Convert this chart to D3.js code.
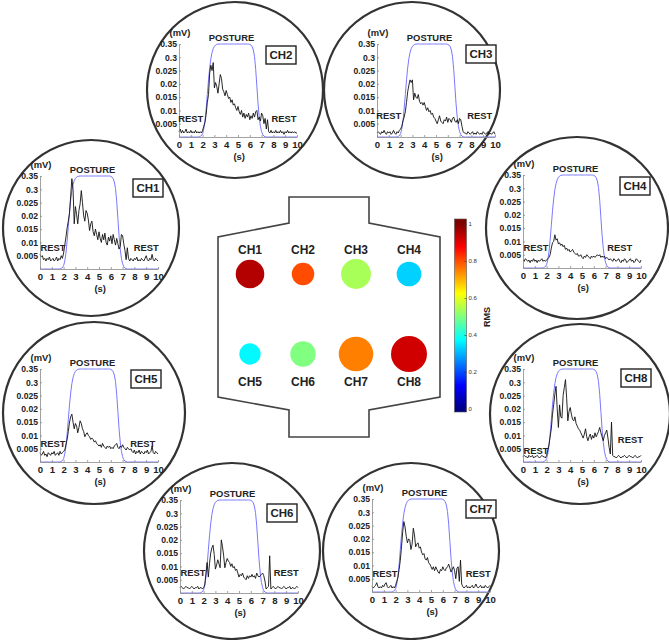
<!DOCTYPE html>
<meta charset="utf-8">
<title>EMG posture channels</title>
<style>

body { margin: 0; background: #fff; }
text { font-family: "Liberation Sans", Arial, sans-serif; font-weight: bold; fill: #222; }
.axis path, .axis line { stroke: #8a8a8a; stroke-width: 0.8; }
.axis text { font-size: 8.6px; }
.xaxis text { font-size: 9.6px; }
.emg { fill: none; stroke: #111; stroke-width: 0.9; }
.posture { fill: none; stroke: #7878ff; stroke-width: 1; }
.panel { fill: #fff; stroke: #333; stroke-width: 2.2; }
.note { font-size: 9.4px; }
.tag { font-size: 11.5px; }
.board { fill: #fff; stroke: #444; stroke-width: 1.6; }
.cbar path { stroke: none; }
.cbar line { stroke: #333; stroke-width: 0.6; }
.cbar text { font-size: 6px; font-weight: normal; fill: #333; }

</style>
<body>

<div id="chart"></div>

<script src="https://d3js.org/d3.v7.min.js"></script>
<script>

  var channels = ["CH1", "CH2", "CH3", "CH4", "CH5", "CH6", "CH7", "CH8"];

  // RMS (colour) and relative electrode size for the board view
  var rms = [0.95, 0.80, 0.54, 0.33, 0.37, 0.50, 0.75, 0.92];
  var dotSize = [0.63, 0.39, 0.69, 0.47, 0.35, 0.50, 0.92, 1.00];

  var xTicks = [0, 1, 2, 3, 4, 5, 6, 7, 8, 9, 10];
  var yTickLabels = ["0.005", "0.01", "0.015", "0.02", "0.025", "0.3", "0.35"];
  var cbarTicks = [0, 0.2, 0.4, 0.6, 0.8, 1];
  var sampleStep = 0.1; // s between samples

  // posture reference curve (same for every channel), in y-tick units
  var posture = [
    0, 0, 0, 0, 0, 0, 0, 0, 0, 0,
    0, 0, 0, 0, 0, 0, 0, 0, 0.05, 0.1,
    0.25, 0.6, 1.2, 2.1, 3.2, 4.3, 5.2, 5.9, 6.35, 6.65,
    6.82, 6.92, 6.97, 6.99, 7, 7, 7, 7, 7, 7,
    7, 7, 7, 7, 7, 7, 7, 7, 7, 7,
    7, 7, 7, 7, 7, 7, 7, 7, 7, 7,
    6.97, 6.92, 6.8, 6.55, 6.05, 5.1, 3.8, 2.5, 1.5, 0.8,
    0.4, 0.18, 0.07, 0.02, 0, 0, 0, 0, 0, 0,
    0, 0, 0, 0, 0, 0, 0, 0, 0, 0,
    0, 0, 0, 0, 0, 0, 0, 0, 0, 0,
    0
  ];

  var emg1 = [
    1.1, 0.9, 1.0, 0.7, 0.8, 0.6, 0.8, 0.7, 0.9, 0.6,
    0.7, 0.8, 0.6, 0.7, 0.9, 0.6, 0.8, 0.7, 1.0, 0.8,
    1.2, 1.8, 2.4, 3.1, 3.6, 4.2, 5.5, 6.8, 6.0, 3.4,
    4.7, 4.1, 3.4, 4.4, 4.9, 5.9, 5.0, 4.0, 3.6, 4.4,
    4.2, 3.7, 2.9, 3.4, 3.6, 2.8, 2.5, 3.0, 2.6, 2.2,
    2.8, 2.3, 2.0, 2.6, 2.2, 2.7, 2.0, 1.8, 2.4, 2.1,
    2.5, 1.9, 2.6, 2.2, 1.8, 2.3, 1.9, 1.5, 1.7, 2.6,
    2.5, 1.9, 1.4, 0.7, 1.6, 0.8, 0.6, 0.8, 0.7, 0.6,
    0.8, 0.7, 0.9, 0.6, 0.7, 0.6, 0.8, 0.7, 0.6, 0.8,
    1.0, 0.7, 0.6, 0.8, 0.7, 1.1, 0.7, 0.6, 0.8, 0.7,
    0.6
  ];
  var emg2 = [
    0.4, 0.6, 0.3, 0.5, 0.3, 0.4, 0.6, 0.3, 0.4, 0.3,
    0.5, 0.3, 0.4, 0.3, 0.5, 0.3, 0.4, 0.3, 0.4, 0.3,
    0.5, 0.8, 1.1, 1.7, 2.6, 3.2, 4.8, 5.4, 5.0, 5.6,
    3.7, 4.1, 3.8, 3.3, 4.0, 4.7, 4.4, 3.6, 3.4, 3.1,
    3.5, 3.2, 2.9, 3.0, 2.6, 2.8, 2.4, 2.5, 2.2, 2.0,
    2.3, 1.9, 1.7, 2.0, 1.5, 1.8, 1.4, 1.7, 1.5, 1.8,
    1.3, 1.6, 1.4, 1.8, 1.5, 1.9, 2.0, 1.3, 1.5, 1.2,
    1.8, 1.6, 1.0, 1.4, 0.6, 1.3, 0.4, 0.3, 0.5, 0.3,
    0.4, 0.3, 0.5, 0.3, 0.4, 0.3, 0.5, 0.3, 0.4, 0.2,
    0.4, 0.3, 0.5, 0.3, 0.4, 0.3, 0.4, 0.3, 0.4, 0.3,
    0.3
  ];
  var emg3 = [
    0.3, 0.4, 0.3, 0.2, 0.4, 0.3, 0.5, 0.3, 0.2, 0.4,
    0.3, 0.4, 0.2, 0.3, 0.5, 0.3, 0.2, 0.4, 0.3, 0.5,
    0.6, 0.8, 1.2, 1.5, 1.9, 2.6, 3.4, 3.9, 4.3, 4.1,
    4.3, 2.8, 3.3, 3.0, 2.9, 3.2, 2.7, 2.5, 2.6, 2.4,
    2.6, 2.3, 2.0, 2.2, 1.9, 2.0, 1.7, 1.8, 1.5, 1.4,
    1.2, 1.0, 1.3, 1.6, 1.2, 1.1, 1.0, 1.3, 1.2, 1.5,
    1.1, 1.4, 1.3, 1.1, 1.4, 1.5, 1.2, 1.1, 1.3, 1.0,
    1.4, 1.3, 0.8, 0.4, 0.3, 0.3, 0.2, 0.4, 0.3, 0.2,
    0.3, 0.4, 0.2, 0.3, 0.2, 0.4, 0.3, 0.2, 0.3, 0.2,
    0.4, 0.3, 0.2, 0.3, 0.4, 0.2, 0.3, 0.2, 0.3, 0.4,
    0.2
  ];
  var emg4 = [
    0.6, 0.5, 0.7, 0.6, 0.5, 0.6, 0.4, 0.6, 0.5, 0.7,
    0.5, 0.6, 0.4, 0.6, 0.5, 0.6, 0.7, 0.5, 0.6, 0.5,
    0.6, 0.7, 0.8, 1.0, 1.5, 1.9, 2.0, 2.5, 2.1, 2.2,
    1.8, 1.9, 1.7, 1.8, 1.6, 1.7, 1.4, 1.5, 1.3, 1.4,
    1.2, 1.3, 1.4, 1.2, 1.1, 1.0, 1.1, 0.9, 0.9, 1.0,
    0.8, 0.7, 0.9, 0.8, 1.0, 0.9, 0.8, 0.7, 0.9, 0.8,
    0.9, 0.8, 0.9, 1.0, 0.9, 1.0, 0.8, 0.9, 0.8, 0.9,
    0.7, 0.8, 0.7, 0.6, 0.7, 0.6, 0.5, 0.7, 0.6, 0.5,
    0.6, 0.7, 0.5, 0.4, 0.6, 0.5, 0.7, 0.6, 0.4, 0.5,
    0.6, 0.7, 0.5, 0.6, 0.4, 0.5, 0.7, 0.6, 0.5, 0.4,
    0.6
  ];
  var emg5 = [
    0.7, 0.5, 0.6, 0.8, 0.5, 0.6, 0.4, 0.7, 0.6, 0.5,
    0.7, 0.6, 0.8, 0.5, 0.6, 0.7, 0.5, 0.8, 0.6, 0.7,
    0.8, 0.9, 1.3, 1.7, 2.3, 3.0, 3.4, 3.6, 3.0, 2.5,
    2.9, 2.7, 2.2, 2.6, 3.1, 2.9, 2.5, 2.3, 1.9, 2.1,
    2.2, 2.0, 1.9, 1.7, 1.8, 1.7, 1.5, 1.6, 1.4, 1.3,
    1.2, 1.3, 1.1, 1.4, 1.2, 1.1, 1.0, 1.2, 1.1, 1.2,
    1.0, 1.1, 1.0, 1.2, 1.3, 1.4, 1.1, 1.0, 1.2, 1.1,
    1.3, 1.1, 1.0, 0.9, 1.1, 1.0, 0.9, 1.0, 0.8, 0.7,
    0.9, 0.6, 0.8, 0.7, 0.9, 0.6, 0.8, 0.7, 0.6, 0.8,
    0.7, 0.9, 0.6, 0.7, 0.8, 1.2, 0.7, 0.6, 0.8, 0.7,
    0.6
  ];
  var emg6 = [
    0.4, 0.5, 0.4, 0.3, 0.4, 0.5, 0.4, 0.4, 0.3, 0.4,
    0.5, 0.4, 0.3, 0.4, 0.4, 0.5, 0.3, 0.4, 0.4, 0.3,
    0.4, 0.6, 1.5, 2.3, 1.2, 2.2, 3.0, 3.4, 3.6, 2.9,
    1.8, 2.1, 2.5, 2.2, 1.9, 4.0, 3.5, 2.8, 1.9, 2.3,
    2.6, 2.4, 2.3, 2.0, 2.2, 1.9, 2.0, 1.7, 1.8, 1.5,
    1.2, 1.4, 1.3, 1.5, 1.2, 1.1, 1.0, 1.3, 1.1, 1.3,
    1.2, 1.4, 1.2, 1.3, 1.1, 1.5, 1.3, 1.2, 1.3, 1.4,
    1.5, 1.3, 0.9, 0.3, 0.4, 0.5, 2.8, 0.3, 0.4, 0.5,
    0.4, 0.3, 0.4, 0.5, 0.4, 0.4, 0.3, 0.4, 0.5, 0.4,
    0.3, 0.4, 0.4, 0.5, 0.3, 0.4, 0.4, 0.3, 0.4, 0.5,
    0.4
  ];
  var emg7 = [
    0.4, 0.3, 0.4, 0.5, 0.7, 0.4, 0.3, 0.4, 0.3, 0.5,
    0.4, 0.6, 0.7, 0.4, 0.3, 0.4, 0.5, 0.3, 0.4, 0.3,
    0.5, 0.8, 1.1, 1.7, 2.4, 3.4, 4.5, 5.3, 4.9, 4.2,
    3.7, 4.0, 3.9, 3.2, 3.6, 4.8, 4.3, 3.4, 3.6, 3.7,
    3.3, 3.4, 3.0, 2.8, 2.9, 2.5, 2.4, 2.6, 2.2, 2.1,
    1.9, 1.7, 1.9, 1.6, 1.9, 1.7, 1.5, 1.4, 1.7, 1.6,
    1.9, 1.7, 1.6, 1.8, 1.9, 2.1, 1.8, 1.5, 1.7, 1.9,
    1.6, 1.0, 1.8, 1.9, 0.8, 2.4, 0.6, 0.4, 0.3, 0.4,
    0.5, 0.3, 0.4, 0.3, 0.4, 0.5, 0.3, 0.4, 0.6, 0.4,
    0.3, 0.4, 0.5, 0.3, 0.4, 0.3, 0.5, 0.4, 0.3, 0.4,
    0.5
  ];
  var emg8 = [
    0.4, 0.5, 0.4, 0.4, 0.3, 0.5, 0.4, 0.4, 0.5, 0.3,
    0.4, 0.4, 0.5, 0.4, 0.3, 0.4, 0.5, 0.4, 0.4, 0.3,
    0.5, 0.9, 1.3, 1.9, 2.5, 3.6, 4.3, 5.1, 5.7, 4.0,
    2.6, 4.3, 3.4, 3.3, 5.0, 5.6, 6.2, 4.8, 3.1, 3.8,
    4.1, 3.6, 3.2, 3.1, 3.4, 2.9, 2.7, 2.5, 2.4, 2.2,
    2.0, 1.8, 2.1, 2.5, 1.9, 1.6, 1.9, 2.1, 1.7, 2.0,
    1.8, 2.2, 1.9, 2.1, 2.3, 2.6, 2.2, 1.9, 1.6, 2.0,
    2.2, 2.4, 1.8, 1.1, 0.6, 3.0, 0.5, 0.4, 0.4, 0.3,
    0.4, 0.5, 0.4, 0.3, 0.4, 0.4, 0.5, 0.4, 0.3, 0.4,
    0.5, 0.4, 0.4, 0.3, 0.4, 0.5, 0.4, 0.3, 0.4, 0.4,
    0.5
  ];
  var emg = [emg1, emg2, emg3, emg4, emg5, emg6, emg7, emg8];

  // where each round panel sits (circle, plot origin, name box, REST labels in s / tick units)
  var panels = [
    {cx: 91,  cy: 228, r: 88, x0: 40,  base: 269, box: [133, 179], restL: [1.1, 1.6], restR: [9.0, 1.6]},
    {cx: 235, cy: 90,  r: 88, x0: 179, base: 137, box: [266, 46],  restL: [1.0, 1.4], restR: [8.9, 1.4]},
    {cx: 412, cy: 90,  r: 88, x0: 377, base: 137, box: [466, 45],  restL: [1.0, 1.6], restR: [8.7, 1.6]},
    {cx: 577, cy: 228, r: 91, x0: 523, base: 268, box: [620, 177], restL: [1.1, 1.5], restR: [8.2, 1.5]},
    {cx: 94,  cy: 413, r: 91, x0: 40,  base: 462, box: [131, 370], restL: [1.1, 1.4], restR: [8.7, 1.4]},
    {cx: 232, cy: 551, r: 88, x0: 180, base: 593, box: [267, 504], restL: [1.1, 1.5], restR: [9.0, 1.5]},
    {cx: 411, cy: 551, r: 88, x0: 372, base: 592, box: [466, 500], restL: [1.1, 1.4], restR: [9.0, 1.4]},
    {cx: 580, cy: 414, r: 90, x0: 523, base: 462, box: [621, 369], restL: [1.1, 0.85], restR: [9.1, 1.7]}
  ];

  var svg = d3.select("#chart").append("svg")
      .attr("width", 669)
      .attr("height", 640);

  var plotW = 118, plotH = 93;

  var x = d3.scaleLinear().domain([0, 10]).range([0, plotW]);
  var y = d3.scaleLinear().domain([0, 7]).range([plotH, 0]);

  var line = d3.line()
      .x(function(d, i) { return x(i * sampleStep); })
      .y(function(d) { return y(d); });

  // MATLAB-style jet colormap
  var jet = d3.scaleLinear()
      .domain([0, 0.125, 0.375, 0.625, 0.875, 1])
      .range(["#000085", "#0000ff", "#00ffff", "#ffff00", "#ff0000", "#800000"]);

  panels.forEach(function(p, i) {
    svg.append("circle")
        .attr("class", "panel")
        .attr("cx", p.cx)
        .attr("cy", p.cy)
        .attr("r", p.r);

    var g = svg.append("g")
        .attr("transform", "translate(" + p.x0 + "," + (p.base - plotH) + ")");

    g.append("path").datum(posture).attr("class", "posture").attr("d", line);
    g.append("path").datum(emg[i]).attr("class", "emg").attr("d", line);

    g.append("g")
        .attr("class", "axis xaxis")
        .attr("transform", "translate(0," + plotH + ")")
        .call(d3.axisBottom(x)
          .tickValues(xTicks)
          .tickSize(-2)
          .tickSizeOuter(0)
          .tickPadding(4)
          .tickFormat(d3.format("d")));

    g.append("g")
        .attr("class", "axis")
        .call(d3.axisLeft(y)
          .tickValues([1, 2, 3, 4, 5, 6, 7])
          .tickSize(-2)
          .tickSizeOuter(0)
          .tickPadding(2)
          .tickFormat(function(d) { return yTickLabels[d - 1]; }));

    g.append("text").attr("class", "note")
        .attr("x", 1).attr("y", -8)
        .attr("text-anchor", "middle")
        .text("(mV)");

    g.append("text").attr("class", "note")
        .attr("x", x(4.45)).attr("y", -3.5)
        .attr("text-anchor", "middle")
        .text("POSTURE");

    g.append("text").attr("class", "note")
        .attr("x", x(5.1)).attr("y", plotH + 20).attr("dy", "0.35em")
        .attr("text-anchor", "middle")
        .text("(s)");

    [p.restL, p.restR].forEach(function(r) {
      g.append("text").attr("class", "note")
          .attr("x", x(r[0])).attr("y", y(r[1])).attr("dy", "0.35em")
          .attr("text-anchor", "middle")
          .text("REST");
    });

    svg.append("rect")
        .attr("x", p.box[0]).attr("y", p.box[1])
        .attr("width", 30).attr("height", 18)
        .attr("fill", "#fff").attr("stroke", "#222").attr("stroke-width", 1.4);
    svg.append("text").attr("class", "tag")
        .attr("x", p.box[0] + 15).attr("y", p.box[1] + 9).attr("dy", "0.36em")
        .attr("text-anchor", "middle")
        .text(channels[i]);
  });

  // electrode board
  var outline = [[289, 197], [369, 197], [369, 223], [440, 237], [440, 397], [369, 410],
                 [369, 437], [289, 437], [289, 410], [218, 397], [218, 237], [289, 223]];
  svg.append("path")
      .attr("class", "board")
      .attr("d", d3.line()(outline) + "Z");

  var col = d3.scalePoint().domain([0, 1, 2, 3]).range([250, 409]);
  var row = d3.scalePoint().domain([0, 1]).range([274, 354]);
  var rad = d3.scaleSqrt().domain([0, 1]).range([0, 18]);

  svg.selectAll(".dot")
      .data(channels)
    .enter().append("circle")
      .attr("class", "dot")
      .attr("cx", function(d, i) { return col(i % 4); })
      .attr("cy", function(d, i) { return row(Math.floor(i / 4)); })
      .attr("r", function(d, i) { return rad(dotSize[i]); })
      .attr("fill", function(d, i) { return jet(rms[i]); });

  svg.selectAll(".dotlabel")
      .data(channels)
    .enter().append("text")
      .attr("class", "dotlabel")
      .attr("x", function(d, i) { return col(i % 4); })
      .attr("y", function(d, i) { return i < 4 ? 250 : 382; })
      .attr("dy", "0.36em")
      .attr("text-anchor", "middle")
      .style("font-size", "12px")
      .text(function(d) { return d; });

  // colour bar
  var barTop = 219, barBot = 412, barX = 454.5, barW = 12;
  var cbY = d3.scaleLinear().domain([0, 1]).range([409, 224]);

  var grad = svg.append("defs").append("linearGradient")
      .attr("id", "jet")
      .attr("x1", 0).attr("y1", 1).attr("x2", 0).attr("y2", 0);
  grad.selectAll("stop")
      .data(jet.domain())
    .enter().append("stop")
      .attr("offset", function(d) { return (barBot - cbY(d)) / (barBot - barTop); })
      .attr("stop-color", function(d) { return jet(d); });

  svg.append("rect")
      .attr("x", barX).attr("y", barTop)
      .attr("width", barW).attr("height", barBot - barTop)
      .attr("fill", "url(#jet)")
      .attr("stroke", "#555").attr("stroke-width", 0.6);

  svg.append("g")
      .attr("class", "cbar")
      .attr("transform", "translate(" + (barX + barW) + ",0)")
      .call(d3.axisRight(cbY)
        .tickValues(cbarTicks)
        .tickSize(-2)
        .tickSizeOuter(0)
        .tickPadding(2)
        .tickFormat(d3.format("~g")));

  svg.append("text")
      .attr("transform", "translate(487,317) rotate(-90)")
      .attr("dy", "0.35em")
      .attr("text-anchor", "middle")
      .style("font-size", "9px")
      .text("RMS");

</script>

</body>
</html>
